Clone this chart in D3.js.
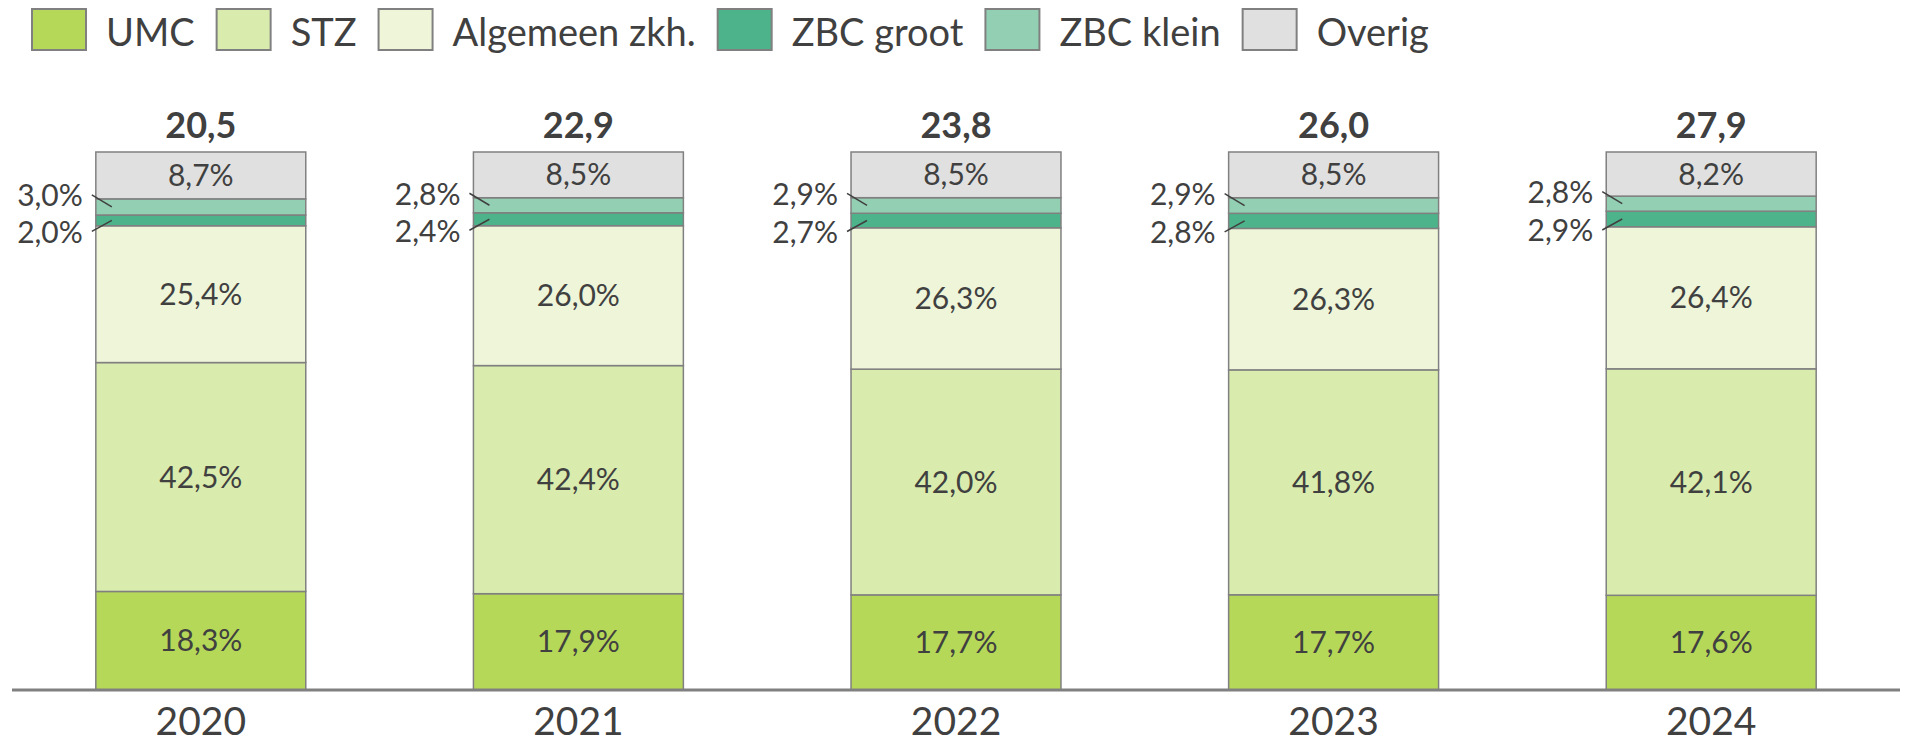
<!DOCTYPE html>
<html>
<head>
<meta charset="utf-8">
<script src="https://cdn.jsdelivr.net/npm/d3@7"></script>
<style>
  html, body { margin: 0; padding: 0; background: #ffffff; }
  svg { display: block; font-family: Lato, "Open Sans", sans-serif; }
</style>
</head>
<body>
<svg id="chart" width="1906" height="744"></svg>
<script>
// ---- data ----
const years = ["2020", "2021", "2022", "2023", "2024"];
const totals = [20.5, 22.9, 23.8, 26.0, 27.9];
const seriesNames = ["UMC", "STZ", "Algemeen zkh.", "ZBC groot", "ZBC klein", "Overig"];
const umc       = [18.3, 17.9, 17.7, 17.7, 17.6];
const stz       = [42.5, 42.4, 42.0, 41.8, 42.1];
const algemeen  = [25.4, 26.0, 26.3, 26.3, 26.4];
const zbcGroot  = [2.0, 2.4, 2.7, 2.8, 2.9];
const zbcKlein  = [3.0, 2.8, 2.9, 2.9, 2.8];
const overig    = [8.7, 8.5, 8.5, 8.5, 8.2];

const colors = ["#b6d858", "#d9ecad", "#eef5d9", "#4db38a", "#93cfb3", "#e0e0e0"];

const seriesValues = [umc, stz, algemeen, zbcGroot, zbcKlein, overig];
const rows = years.map((y, i) => {
  const r = { year: y };
  seriesNames.forEach((k, j) => { r[k] = seriesValues[j][i]; });
  return r;
});

const nl = d3.formatLocale({ decimal: ",", thousands: ".", grouping: [3], currency: ["€", ""] });
const fmt1 = nl.format(".1f");

const svg = d3.select("#chart");
const textColor = "#404040";
const strokeColor = "#808080";

// ---- scales ----
const x = d3.scaleBand().domain(years).range([12, 1900]).paddingInner(0.444).paddingOuter(0.222);
const y = d3.scaleLinear().domain([0, 1]).range([690, 152]);

const stack = d3.stack().keys(seriesNames).offset(d3.stackOffsetExpand);
const stacked = stack(rows);

// ---- bars ----
const g = svg.append("g");
stacked.forEach((layer, li) => {
  g.selectAll(null).data(layer).enter().append("rect")
    .attr("x", d => x(d.data.year))
    .attr("width", x.bandwidth())
    .attr("y", d => y(d[1]))
    .attr("height", d => y(d[0]) - y(d[1]))
    .attr("fill", colors[li])
    .attr("stroke", strokeColor)
    .attr("stroke-width", 1.5);
});

// inside labels
const insideKeys = ["UMC", "STZ", "Algemeen zkh.", "Overig"];
stacked.forEach((layer, li) => {
  const key = seriesNames[li];
  if (!insideKeys.includes(key)) return;
  g.selectAll(null).data(layer).enter().append("text")
    .attr("x", d => x(d.data.year) + x.bandwidth() / 2)
    .attr("y", d => (y(d[0]) + y(d[1])) / 2)
    .attr("dy", "0.35em")
    .attr("text-anchor", "middle")
    .attr("font-size", 30)
    .attr("fill", textColor)
    .text(d => fmt1(d.data[key]) + "%");
});

// side labels with leader lines for ZBC
const sideSpecs = [
  { key: "ZBC klein", offset: -11 },
  { key: "ZBC groot", offset: 12 }
];
sideSpecs.forEach(spec => {
  const li = seriesNames.indexOf(spec.key);
  const layer = stacked[li];
  layer.forEach(d => {
    const left = x(d.data.year);
    const cy = (y(d[0]) + y(d[1])) / 2;
    const ly = cy + spec.offset;
    g.append("line")
      .attr("x1", left - 4).attr("y1", ly - 1)
      .attr("x2", left + 16).attr("y2", cy)
      .attr("stroke", "#404040").attr("stroke-width", 1.5);
    g.append("text")
      .attr("x", left - 13)
      .attr("y", ly)
      .attr("dy", "0.35em")
      .attr("text-anchor", "end")
      .attr("font-size", 30)
      .attr("fill", textColor)
      .text(fmt1(d.data[spec.key]) + "%");
  });
});

// totals
g.selectAll(null).data(years).enter().append("text")
  .attr("x", d => x(d) + x.bandwidth() / 2)
  .attr("y", 138)
  .attr("text-anchor", "middle")
  .attr("font-size", 36)
  .attr("font-weight", "bold")
  .attr("fill", textColor)
  .text((d, i) => fmt1(totals[i]));

// ---- x axis ----
const xAxis = d3.axisBottom(x).tickSize(0).tickPadding(0);
const ax = svg.append("g").attr("transform", "translate(0,690)").call(xAxis);
ax.select(".domain").attr("stroke", strokeColor).attr("stroke-width", 3).attr("d", "M12,0H1900");
ax.selectAll(".tick text")
  .attr("y", 45)
  .attr("dy", 0)
  .attr("font-size", 39)
  .attr("font-family", "Lato, sans-serif")
  .attr("fill", textColor);

// ---- legend ----
const legend = svg.append("g");
let lx = 32;
seriesNames.forEach((name, i) => {
  legend.append("rect")
    .attr("x", lx).attr("y", 9)
    .attr("width", 54).attr("height", 41)
    .attr("fill", colors[i])
    .attr("stroke", strokeColor)
    .attr("stroke-width", 2);
  const t = legend.append("text")
    .attr("x", lx + 74).attr("y", 46)
    .attr("font-size", 38)
    .attr("fill", textColor)
    .text(name);
  lx = lx + 74 + t.node().getComputedTextLength() + 22;
});
</script>
</body>
</html>
